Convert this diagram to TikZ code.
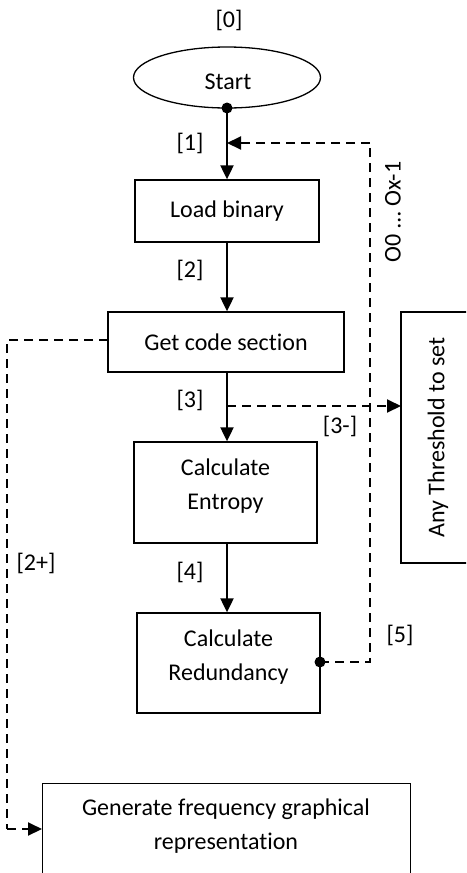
\documentclass[tikz,border=0pt]{standalone}
\usepackage{fontspec}
\setmainfont[Ligatures={NoCommon}]{Carlito}
\usetikzlibrary{arrows.meta,shapes.geometric}
\begin{document}
\begin{tikzpicture}[x=0.5pt,y=-0.5pt,
  font=\fontsize{12}{17}\selectfont,
  box/.style={draw, line width=0.65pt, rectangle, inner sep=0pt, align=center},
  tip/.style={-{Triangle[length=7pt,width=6.5pt]}},
  flow/.style={line width=1pt, tip},
  dflow/.style={line width=1pt, dash pattern=on 4.5pt off 3pt},
  lbl/.style={inner sep=0pt},
  dotc/.style={circle, fill=black, inner sep=0pt, minimum size=5.5pt}]
\useasboundingbox (0,0) rectangle (466,873);
\clip (0,0) rectangle (466,873);
% nodes
\node[ellipse, draw, line width=0.65pt, minimum width=93.5pt, minimum height=30.5pt, inner sep=0pt] (start) at (227,77.5) {};
\node[lbl] (startt) at (228,82) {Start};
\node[box, minimum width=92pt, minimum height=31pt] (load) at (227,211) {Load binary};
\node[box, minimum width=118pt, minimum height=30pt] (code) at (226,342) {Get code section};
\node[box, minimum width=91.5pt, minimum height=50.5pt] (entropy) at (225.5,492.5) {};
\node[lbl, align=center] (entt) at (225.5,486) {Calculate\\Entropy};
\node[box, minimum width=91.5pt, minimum height=50pt] (redund) at (228.5,663) {};
\node[lbl, align=center] (redt) at (228.5,657) {Calculate\\Redundancy};
\node[box, minimum width=37pt, minimum height=125.5pt] (thr) at (438,437.5) {};
\node[lbl, rotate=90] (thrt) at (438,437.5) {Any Threshold to set};
\node[box, anchor=north west, minimum width=184pt, minimum height=70pt] (gen) at (42,783) {};
\node[lbl, align=center] (gent) at (226,826) {Generate frequency graphical\\representation};
% labels
\node[lbl] (l0) at (229,20) {[0]};
\node[lbl] (l1) at (190,143) {[1]};
\node[lbl] (l2) at (190,270) {[2]};
\node[lbl] (l3) at (190,400) {[3]};
\node[lbl] (l4) at (190,572) {[4]};
\node[lbl] (l3m) at (340,426) {[3-]};
\node[lbl] (l2p) at (36,563) {[2+]};
\node[lbl] (l5) at (400,635) {[5]};
\node[lbl, rotate=90] (oo) at (393,212) {O0 … Ox-1};
% coordinates
\coordinate (sb) at (227,108);
\coordinate (fb) at (227,143);
\coordinate (fbc) at (370,143);
\coordinate (rdot) at (320,662);
\coordinate (rc) at (370,662);
\coordinate (br) at (227,406);
\coordinate (thin) at (401,406);
\coordinate (cl) at (108,340);
\coordinate (lc1) at (7,340);
\coordinate (lc2) at (7,829);
\coordinate (gin) at (42,829);
% connectors
\draw[flow] (sb) -- (sb |- load.north);
\node[dotc] (sdot) at (sb) {};
\draw[flow] (sb |- load.south) -- (sb |- code.north);
\draw[flow] (sb |- code.south) -- (sb |- entropy.north);
\draw[flow] (sb |- entropy.south) -- (sb |- redund.north);
\draw[dflow] (rdot) -- (rc) -- (fbc);
\draw[dflow, tip] (fbc) -- (fb);
\node[dotc] (rdn) at (rdot) {};
\draw[dflow, tip] (br) -- (thin);
\draw[dflow] (cl) -- (lc1) -- (lc2);
\draw[dflow, tip] (lc2) -- (gin);
\end{tikzpicture}
\end{document}
